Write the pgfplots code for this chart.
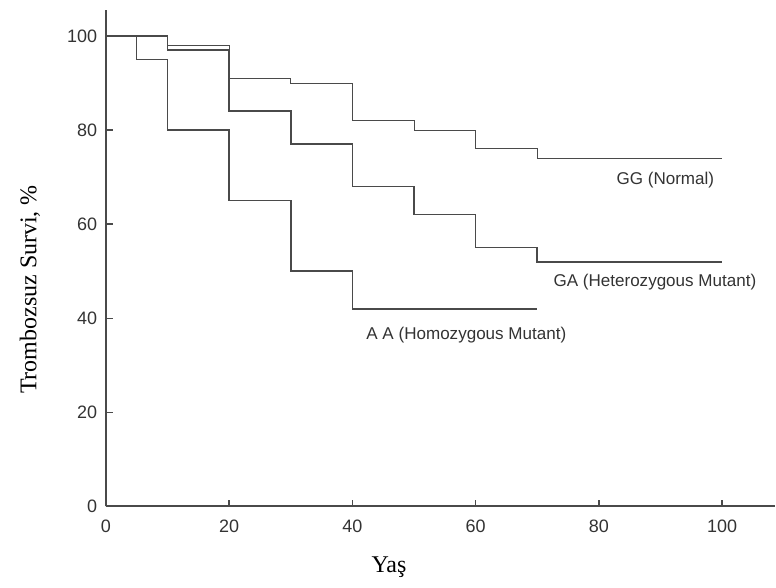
\documentclass[border=0pt]{standalone}
\usepackage{fontspec}
\setmainfont{Liberation Sans}
\newfontfamily\tnr{Liberation Serif}
\usepackage{pgfplots}
\pgfplotsset{compat=1.18}
\definecolor{ln}{HTML}{4A4A4A}
\definecolor{tx}{HTML}{333333}
\begin{document}
\begin{tikzpicture}
\path (-79.5pt,-60.75pt) rectangle (502.5pt,380.25pt);
\begin{axis}[
 at={(0,0)}, anchor=origin,
 x=4.6275pt, y=3.5325pt,
 xmin=0, xmax=108.6, ymin=0, ymax=105.5,
 axis x line=bottom, axis y line=left,
 axis line style={-, line width=1.4pt, color=ln},
 xtick={0,20,...,100}, ytick={0,20,...,100},
 tick align=inside, major tick length=5pt,
 tick style={line width=1pt, color=ln},
 ticklabel style={font=\fontsize{13.5}{16}\selectfont, text=tx},
 xticklabel style={yshift=-7pt},
 yticklabel style={xshift=-3pt},
 /pgf/number format/assume math mode=true,
 clip=false,
 xlabel={Yaş}, ylabel={Trombozsuz Survi, \%},
 xlabel style={font=\tnr\fontsize{18}{21}\selectfont, at={(axis description cs:0.423,-0.123)}, anchor=center},
 ylabel style={font=\tnr\fontsize{18}{21}\selectfont, at={(axis description cs:-0.1136,0.437)}, anchor=center},
]
\addplot[const plot, color=ln, line width=0.7pt] coordinates {(0,100) (10,98) (20,91) (30,90) (40,82) (50,80) (60,76) (70,74) (100,74)};
\addplot[const plot, color=ln, line width=1.2pt] coordinates {(0,100) (10,97) (20,84) (30,77) (40,68) (50,62) (60,55) (70,52) (100,52)};
\addplot[const plot, color=ln, line width=1.2pt] coordinates {(0,100) (5,95) (10,80) (20,65) (30,50) (40,42) (70,42)};
\node[font=\fontsize{12.8}{15}\selectfont, text=tx] at (axis cs:90.8,69.4) {GG (Normal)};
\node[font=\fontsize{12.8}{15}\selectfont, text=tx] at (axis cs:89.1,47.6) {GA (Heterozygous Mutant)};
\node[font=\fontsize{12.8}{15}\selectfont, text=tx] at (axis cs:58.5,36.5) {A A (Homozygous Mutant)};
\end{axis}
\end{tikzpicture}
\end{document}
